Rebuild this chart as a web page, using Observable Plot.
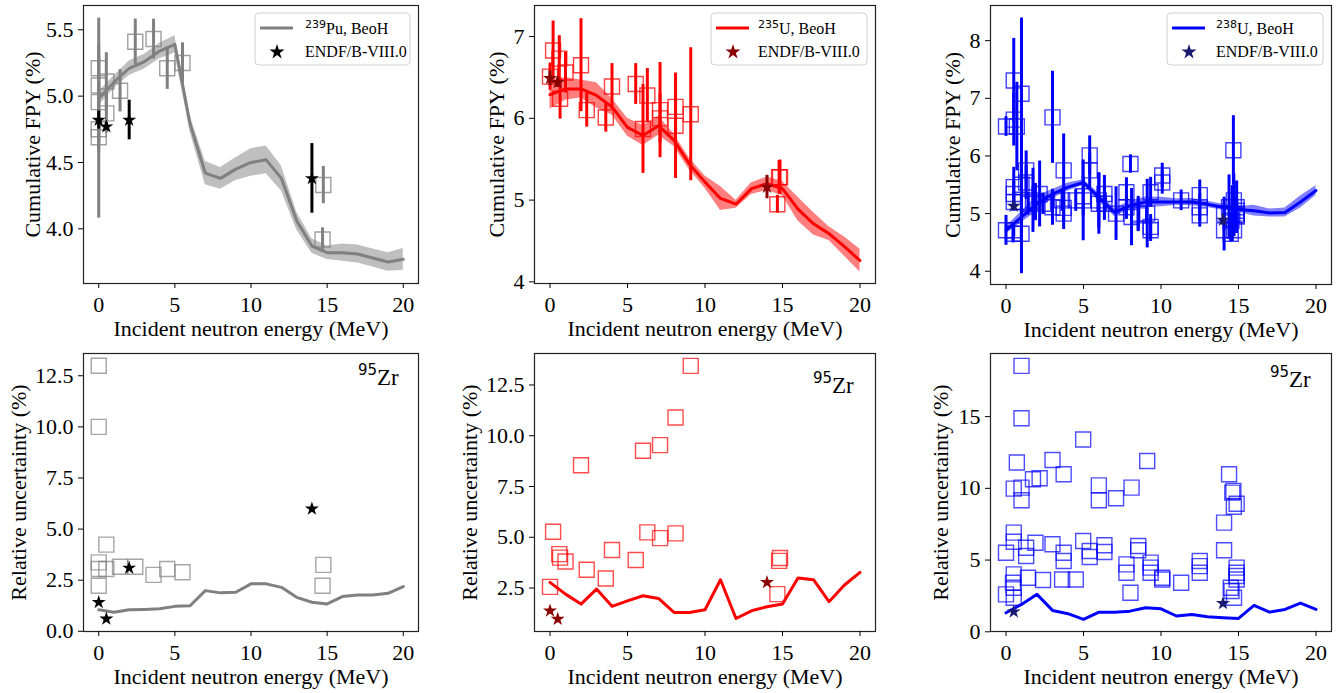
<!DOCTYPE html>
<html><head><meta charset="utf-8">
<script src="https://cdn.jsdelivr.net/npm/d3@7"></script>
<script src="https://cdn.jsdelivr.net/npm/@observablehq/plot@0.6"></script>
<style>
body{margin:0;background:#fff;}
#c{position:relative;width:1342px;height:693px;overflow:hidden;}
</style></head><body><div id="c"></div>
<script>
// ---------------- data ----------------
const energyGrid = [0,1,2,3,4,5,6,7,8,9,10,11,12,13,14,15,16,17,18,19,20];
const xTicks = [0,5,10,15,20];

// BeoH cumulative FPY (%) of 95Zr and its relative uncertainty (%)
const pu239Beoh = [4.98,5.105,5.21,5.26,5.34,5.39,4.79,4.42,4.38,4.45,4.50,4.52,4.38,4.06,3.87,3.82,3.82,3.81,3.78,3.75,3.77];
const pu239BeohUnc = [1.05,0.93,1.05,1.07,1.10,1.22,1.25,1.99,1.88,1.91,2.32,2.32,2.15,1.66,1.42,1.34,1.70,1.78,1.78,1.86,2.19];
const u235Beoh = [6.29,6.36,6.36,6.28,6.14,5.89,5.79,5.91,5.73,5.44,5.22,5.02,4.95,5.14,5.20,5.14,4.89,4.71,4.59,4.43,4.26];
const u235BeohUnc = [2.78,2.20,1.71,2.45,1.60,1.87,2.12,1.99,1.30,1.30,1.43,2.91,1.00,1.38,1.58,1.71,2.99,2.91,1.83,2.65,3.27];
const u238Beoh = [4.71,4.94,5.17,5.34,5.46,5.54,5.28,5.02,5.14,5.20,5.20,5.20,5.20,5.16,5.11,5.07,5.05,5.01,5.02,5.20,5.40];
const u238BeohUnc = [1.33,1.91,2.61,1.49,1.26,0.87,1.37,1.37,1.44,1.68,1.60,1.10,1.21,1.05,0.98,0.93,1.84,1.37,1.56,2.00,1.56];

// experimental data: [energy MeV, FPY %, relative uncertainty %]
const pu239Exp = [
  [0,4.69,12.99],[0,5.08,10.0],[0,5.21,3.37],[0,4.955,3.05],[0,4.75,2.23],
  [0.5,5.11,4.24],[0.5,4.87,3.05],[1.4,5.04,3.16],[2.4,5.41,3.16],[3.6,5.43,2.76],
  [4.5,5.21,3.05],[5.5,5.25,2.89],[14.75,4.33,3.25],[14.7,3.92,2.23]
];
const u235Exp = [
  [0,6.51,2.56],[0.2,6.83,5.27],[0.6,6.73,4.17],[0.65,6.24,4.0],[1.0,6.56,3.81],
  [2.0,6.65,8.55],[2.37,6.10,3.4],[3.6,6.01,2.97],[4.0,6.39,4.37],[5.53,6.42,3.88],
  [6.0,5.87,9.26],[6.28,6.28,5.24],[7.1,6.10,9.54],[7.1,6.0,4.96],[8.1,5.91,10.9],
  [8.1,6.14,5.19],[9.08,6.05,13.44],[14.84,5.28,3.98],[14.78,5.28,3.84],[14.67,4.95,2.2]
];
const u238Exp = [
  [0,6.51,2.61],[0,4.71,5.51],[0.5,7.31,9.98],[0.5,6.63,6.91],[0.5,5.46,6.28],
  [0.5,5.34,4.0],[0.5,5.2,3.07],[0.5,4.71,2.37],[0.45,4.65,3.42],[0.7,6.51,11.8],
  [1.0,7.08,18.54],[1.0,4.65,14.89],[1.0,5.2,10.05],[1.0,5.5,9.17],[1.3,5.75,5.86],
  [1.3,5.54,5.28],[1.42,5.17,3.77],[1.74,5.23,10.63],[1.9,5.2,6.21],[2.17,5.34,10.7],
  [2.39,5.17,3.61],[3.0,6.67,11.98],[3.0,5.11,6.1],[3.62,5.23,3.65],[3.72,5.75,10.98],
  [3.72,5.0,5.51],[3.72,5.1,4.93],[4.5,5.23,3.65],[4.98,5.23,13.4],[4.98,5.3,6.33],
  [5.4,6.01,5.63],[5.4,5.75,5.21],[5.99,5.17,10.21],[5.99,5.23,9.17],[6.35,5.34,6.03],
  [6.35,5.17,5.56],[7.1,5.0,9.31],[7.77,5.37,4.7],[7.77,5.11,4.12],[8.03,5.86,2.72],
  [8.1,4.94,10.05],[8.53,5.0,5.98],[8.53,4.97,5.68],[9.11,5.0,11.91],[9.33,5.37,4.82],
  [9.33,4.77,4.47],[9.33,4.71,4.12],[10.08,5.66,3.77],[10.08,5.54,3.65],[11.3,5.23,3.42],
  [12.5,5.32,4.93],[12.5,5.11,4.58],[12.5,4.97,4.12],[14.07,4.71,7.61],[14.07,5.0,5.68],
  [14.39,5.11,10.98],[14.5,4.65,3.07],[14.55,4.88,2.84],[14.67,6.10,9.82],[14.6,5.0,9.7],
  [14.71,4.71,2.37],[14.7,5.23,8.72],[14.88,5.11,8.93],[14.88,4.97,4.47],[14.88,5.05,4.12],
  [14.88,5.0,3.89],[14.88,4.95,3.65]
];
// ENDF/B-VIII.0: [energy MeV, FPY %, relative uncertainty %]
const pu239Endf = [[0,4.82,1.42],[0.5,4.77,0.61],[2,4.82,3.1],[14,4.38,5.99]];
const u235Endf = [[0,6.49,1.38],[0.5,6.44,0.97],[14,5.16,2.78]];
const u238Endf = [[0.5,5.13,1.4],[14,4.89,1.98]];

const legendLabels = [["239","Pu, BeoH"],["235","U, BeoH"],["238","U, BeoH"]];
const endfLabel = "ENDF/B-VIII.0";
const nuclideLabel = ["95","Zr"];
const xLabel = "Incident neutron energy (MeV)";
const yLabelTop = "Cumulative FPY (%)";
const yLabelBottom = "Relative uncertainty (%)";

// ---------------- drawing ----------------
const container = document.getElementById("c");
const SERIF = "'Liberation Serif','Times New Roman',serif";
const SANS = "'DejaVu Sans',sans-serif";
const SQ_R = 15 / Math.sqrt(Math.PI);
const STAR_R = 4.4;

function panel(o) {
  const p = Plot.plot({
    width: o.w, height: o.h,
    marginLeft: o.mL, marginRight: o.mR, marginTop: o.mT, marginBottom: o.mB,
    x: {domain: [-1, 21]},
    y: {domain: o.yDomain},
    style: {fontSize: "22px", color: "black", background: "transparent", overflow: "visible"},
    marks: [
      ...o.marks,
      Plot.frame({stroke: "#222", strokeWidth: 1.2}),
      Plot.axisX({ticks: xTicks, tickSize: 5, tickPadding: 8, label: null, fontSize: 22}),
      Plot.axisY({ticks: o.yTicks, tickFormat: o.yFmt, tickSize: 5, tickPadding: 5, label: null, fontSize: 22}),
      Plot.text([xLabel], {frameAnchor: "bottom", dy: 45, lineAnchor: "middle", textAnchor: "middle", fontSize: 22}),
      Plot.text([o.ylabel], {frameAnchor: "left", dx: o.ylabelDx, rotate: -90, lineAnchor: "middle", textAnchor: "middle", fontSize: 22})
    ]
  });
  p.style.position = "absolute";
  p.style.left = o.left + "px";
  p.style.top = o.top + "px";
  p.style.fontFamily = SERIF;
  d3.select(p).selectAll("g, text").attr("font-family", null).style("font-family", SERIF);
  container.appendChild(p);
}

function topMarks(beoh, unc, exp, endf, col, bandCol, starCol) {
  const line = energyGrid.map((e, i) => ({e, v: beoh[i], u: unc[i]}));
  return [
    Plot.areaY(line, {x: "e", y1: d => d.v * (1 - d.u / 100), y2: d => d.v * (1 + d.u / 100), fill: bandCol, fillOpacity: 0.5}),
    Plot.line(line, {x: "e", y: "v", stroke: col, strokeWidth: 3}),
    Plot.ruleX(exp, {x: d => d[0], y1: d => d[1] * (1 - d[2] / 100), y2: d => d[1] * (1 + d[2] / 100), stroke: col, strokeWidth: 3}),
    Plot.dot(exp, {x: d => d[0], y: d => d[1], symbol: "square", r: SQ_R, stroke: col, strokeOpacity: 0.75, strokeWidth: 1.4, fill: "none"}),
    Plot.ruleX(endf, {x: d => d[0], y1: d => d[1] * (1 - d[2] / 100), y2: d => d[1] * (1 + d[2] / 100), stroke: starCol, strokeWidth: 3}),
    Plot.dot(endf, {x: d => d[0], y: d => d[1], symbol: "star", r: STAR_R, fill: starCol, stroke: "none"})
  ];
}
function bottomMarks(unc, exp, endf, col, starCol) {
  const line = energyGrid.map((e, i) => ({e, u: unc[i]}));
  return [
    Plot.line(line, {x: "e", y: "u", stroke: col, strokeWidth: 3}),
    Plot.dot(exp, {x: d => d[0], y: d => d[2], symbol: "square", r: SQ_R, stroke: col, strokeOpacity: 0.7, strokeWidth: 1.4, fill: "none"}),
    Plot.dot(endf, {x: d => d[0], y: d => d[2], symbol: "star", r: STAR_R, fill: starCol, stroke: "none"})
  ];
}

const f1 = d3.format(".1f"), f0 = d3.format("d");
const topRow = {top: 0, h: 345, mT: 5, mB: 62, ylabel: yLabelTop};
const botRow = {top: 345, h: 348, mT: 8, mB: 62, ylabel: yLabelBottom};

panel({...topRow, left: 0, w: 445, mL: 83, mR: 27, yDomain: [3.588, 5.683], yTicks: [4.0,4.5,5.0,5.5], yFmt: f1, ylabelDx: -51,
  marks: topMarks(pu239Beoh, pu239BeohUnc, pu239Exp, pu239Endf, "gray", "gray", "black")});
panel({...topRow, left: 451, w: 445, mL: 83, mR: 21, yDomain: [3.98, 7.38], yTicks: [4,5,6,7], yFmt: f0, ylabelDx: -38,
  marks: topMarks(u235Beoh, u235BeohUnc, u235Exp, u235Endf, "red", "red", "darkred")});
panel({...topRow, left: 907, w: 435, mL: 83, mR: 11, mB: 61, yDomain: [3.77, 8.61], yTicks: [4,5,6,7,8], yFmt: f0, ylabelDx: -38,
  marks: topMarks(u238Beoh, u238BeohUnc, u238Exp, u238Endf, "blue", "blue", "midnightblue")});

panel({...botRow, left: 0, w: 445, mL: 83, mR: 27, yDomain: [-0.01, 13.59], yTicks: [0,2.5,5,7.5,10,12.5], yFmt: f1, ylabelDx: -65,
  marks: bottomMarks(pu239BeohUnc, pu239Exp, pu239Endf, "gray", "black")});
panel({...botRow, left: 451, w: 445, mL: 83, mR: 21, yDomain: [0.36, 14.05], yTicks: [2.5,5,7.5,10,12.5], yFmt: f1, ylabelDx: -65,
  marks: bottomMarks(u235BeohUnc, u235Exp, u235Endf, "red", "darkred")});
panel({...botRow, left: 907, w: 435, mL: 83, mR: 11, yDomain: [0.02, 19.4], yTicks: [0,5,10,15], yFmt: f0, ylabelDx: -50,
  marks: bottomMarks(u238BeohUnc, u238Exp, u238Endf, "blue", "midnightblue")});

// ---------------- legends & annotations ----------------
const ov = d3.select(container).append("svg")
  .attr("width", 1342).attr("height", 693)
  .style("position", "absolute").style("left", "0px").style("top", "0px").style("pointer-events", "none");

const legends = [
  {x0: 255, x1: 410, lineX: 260, textX: 305, col: "gray", star: "black", lab: legendLabels[0]},
  {x0: 711, x1: 867, lineX: 716, textX: 758, col: "red", star: "darkred", lab: legendLabels[1]},
  {x0: 1167, x1: 1323, lineX: 1172, textX: 1216, col: "blue", star: "midnightblue", lab: legendLabels[2]}
];
const starPath = d3.symbol(d3.symbolStar, Math.PI * STAR_R * STAR_R * 1.15)();
for (const L of legends) {
  ov.append("rect").attr("x", L.x0).attr("y", 13).attr("width", L.x1 - L.x0).attr("height", 52)
    .attr("rx", 4).attr("fill", "white").attr("fill-opacity", 0.8).attr("stroke", "#d0d0d0").attr("stroke-width", 1);
  ov.append("line").attr("x1", L.lineX).attr("x2", L.lineX + 33).attr("y1", 28).attr("y2", 28)
    .attr("stroke", L.col).attr("stroke-width", 3);
  ov.append("text").attr("x", L.textX).attr("y", 28).style("font-family", SANS).attr("font-size", 11).text(L.lab[0]);
  const w = L.lab[0].length * 7;
  ov.append("text").attr("x", L.textX + w).attr("y", 34).style("font-family", SERIF).attr("font-size", 16).text(L.lab[1]);
  ov.append("path").attr("d", starPath).attr("transform", `translate(${L.lineX + 17},52)`).attr("fill", L.star);
  ov.append("text").attr("x", L.textX).attr("y", 57).style("font-family", SERIF).attr("font-size", 16).text(endfLabel);
}
const zr = [{x: 358, y: 385}, {x: 813, y: 393}, {x: 1270, y: 387}];
for (const z of zr) {
  ov.append("text").attr("x", z.x).attr("y", z.y - 10).style("font-family", SANS).attr("font-size", 15).text(nuclideLabel[0]);
  ov.append("text").attr("x", z.x + 19).attr("y", z.y).style("font-family", SERIF).attr("font-size", 23).text(nuclideLabel[1]);
}
</script>
</body></html>
